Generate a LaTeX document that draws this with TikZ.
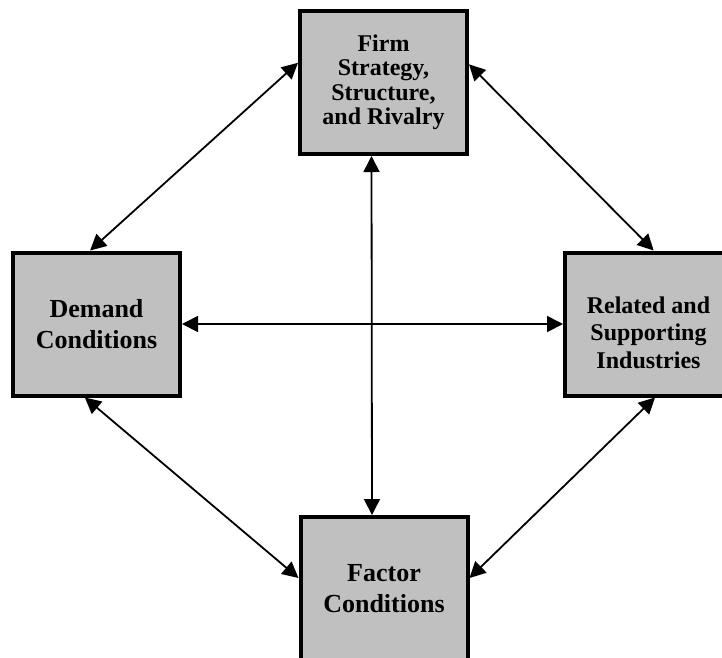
\documentclass[tikz,border=0pt]{standalone}
\usepackage{fontspec}
\setmainfont{Liberation Serif}
\usetikzlibrary{arrows.meta}
\pgfdeclarelayer{bg}
\pgfsetlayers{bg,main}
\definecolor{boxgray}{RGB}{192,192,192}
\tikzset{
    every node/.style={rectangle, draw, line width=4pt, fill=boxgray, minimum width=167pt, minimum height=143pt, align=center},
    >={Triangle[length=16pt,width=16pt]}
}

\begin{document}
\begin{tikzpicture}[x=1pt, y=-1pt]
        \useasboundingbox (0,0) rectangle (722,657);
        \node (firm) [font=\fontsize{24}{24.5}\selectfont\bfseries] at (383.5, 82.5) {Firm\\Strategy,\\Structure,\\and Rivalry};
        \node (demand) [font=\fontsize{26}{31}\selectfont\bfseries] at (96.5, 324) {Demand\\Conditions};
        \node (related) [font=\fontsize{24}{27.5}\selectfont\bfseries] at (648.5, 324) {\rule{0pt}{34pt}Related and\\Supporting\\Industries};
        \node (factor) [font=\fontsize{26}{31}\selectfont\bfseries] at (384, 588.5) {Factor\\Conditions};
        \begin{pgfonlayer}{bg}
                \draw (firm.167) edge [line width=1.8pt, <->] (demand.95);
                \draw (firm.12) edge [line width=1.8pt, <->] (related.86);
                \draw (demand.east) edge [line width=1.8pt, <->] (related.west);
                \draw ([xshift=-12pt]firm.south) edge [line width=1.8pt, <->] ([xshift=-12pt]factor.north);
                \draw (demand.261) edge [line width=1.8pt, <->] (factor.173);
                \draw (related.275) edge [line width=1.8pt, <->] (factor.7);
        \end{pgfonlayer}
\end{tikzpicture}
\end{document}
